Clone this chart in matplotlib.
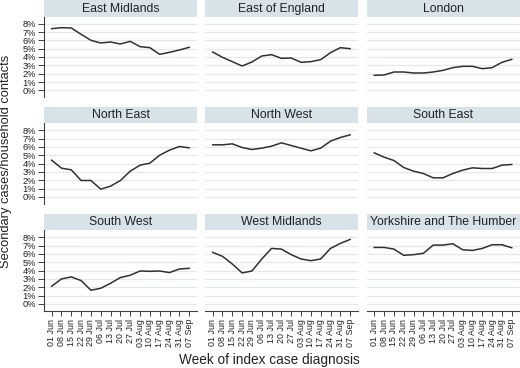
import matplotlib
matplotlib.use("Agg")
import matplotlib.pyplot as plt
from matplotlib.ticker import FuncFormatter

plt.rcParams['font.family'] = ['Liberation Sans', 'DejaVu Sans']

weeks = ["01 Jun", "08 Jun", "15 Jun", "22 Jun", "29 Jun", "06 Jul", "13 Jul",
         "20 Jul", "27 Jul", "03 Aug", "10 Aug", "17 Aug", "24 Aug", "31 Aug", "07 Sep"]

regions = ["East Midlands", "East of England", "London",
           "North East", "North West", "South East",
           "South West", "West Midlands", "Yorkshire and The Humber"]

east_midlands = [7.4, 7.52, 7.48, 6.72, 6.0, 5.68, 5.8, 5.56, 5.88, 5.24, 5.12, 4.32, 4.56, 4.84, 5.16]
east_of_england = [4.6, 3.96, 3.44, 2.92, 3.4, 4.12, 4.28, 3.84, 3.88, 3.36, 3.44, 3.68, 4.52, 5.12, 5.0]
london = [1.8, 1.84, 2.2, 2.2, 2.08, 2.08, 2.2, 2.4, 2.72, 2.88, 2.88, 2.6, 2.72, 3.36, 3.72]
north_east = [4.4, 3.44, 3.24, 1.96, 1.96, 0.92, 1.28, 1.96, 3.08, 3.8, 4.04, 5.0, 5.6, 6.04, 5.88]
north_west = [6.24, 6.24, 6.36, 5.92, 5.68, 5.84, 6.08, 6.48, 6.16, 5.84, 5.52, 5.84, 6.68, 7.12, 7.44]
south_east = [5.28, 4.76, 4.36, 3.52, 3.08, 2.8, 2.28, 2.28, 2.8, 3.2, 3.48, 3.4, 3.4, 3.8, 3.88]
south_west = [2.11, 2.99, 3.23, 2.79, 1.63, 1.87, 2.47, 3.15, 3.43, 3.94, 3.9, 3.94, 3.75, 4.18, 4.26]
west_midlands = [6.18, 5.7, 4.78, 3.71, 3.94, 5.38, 6.65, 6.57, 5.9, 5.38, 5.18, 5.38, 6.65, 7.25, 7.73]
yorkshire = [6.77, 6.77, 6.57, 5.82, 5.9, 6.06, 7.05, 7.05, 7.21, 6.49, 6.41, 6.65, 7.09, 7.09, 6.73]

series = [east_midlands, east_of_england, london, north_east, north_west,
          south_east, south_west, west_midlands, yorkshire]

yticks = [0, 1, 2, 3, 4, 5, 6, 7, 8]

W, H = 520, 368
fig = plt.figure(figsize=(W / 100, H / 100), dpi=100)
fig.patch.set_facecolor("white")

col_left = [44, 205, 366.6]
col_w = 153
row_top = [16.5, 123, 230]
plot_h = 81
strip_h = 16.5

strip_col = "#D7E2E9"
grid_col = "#E1E8EE"
line_col = "#303030"
axis_col = "#404040"
text_col = "#222222"

def px_axes(x0, top, w, h):
    return fig.add_axes([x0 / W, 1 - (top + h) / H, w / W, h / H])

x = list(range(len(weeks)))
for i, (name, vals) in enumerate(zip(regions, series)):
    r, c = divmod(i, 3)
    ax = px_axes(col_left[c], row_top[r], col_w, plot_h)
    ax.set_xlim(-0.78, 14.8)
    ax.set_ylim(-0.86, 8.86)
    for yv in yticks:
        ax.axhline(yv, color=grid_col, lw=0.9, zorder=0)
    ax.plot(x, vals, color=line_col, lw=1.1, zorder=3)
    for s in ax.spines.values():
        s.set_visible(False)
    ax.set_yticks(yticks)
    ax.set_xticks(x)
    if c == 0:
        ax.spines['left'].set_visible(True)
        ax.spines['left'].set_color(axis_col)
        ax.spines['left'].set_linewidth(0.8)
        ax.yaxis.set_major_formatter(FuncFormatter(lambda v, p: f"{int(v)}%"))
        ax.tick_params(axis='y', length=4, width=0.7, color=axis_col,
                       labelsize=6.7, labelcolor=text_col, pad=2)
    else:
        ax.tick_params(axis='y', left=False, labelleft=False)
    if r == 2:
        ax.spines['bottom'].set_visible(True)
        ax.spines['bottom'].set_color(axis_col)
        ax.spines['bottom'].set_linewidth(0.8)
        ax.set_xticklabels(weeks, rotation=90)
        ax.tick_params(axis='x', length=3.5, width=0.7, color=axis_col,
                       labelsize=6.4, labelcolor=text_col, pad=2)
    else:
        ax.tick_params(axis='x', bottom=False, labelbottom=False)
    ax.set_facecolor("white")

    sax = px_axes(col_left[c], row_top[r] - strip_h, col_w, strip_h)
    sax.set_facecolor(strip_col)
    sax.set_xticks([])
    sax.set_yticks([])
    for s in sax.spines.values():
        s.set_visible(False)
    sax.text(0.5, 0.47, name, ha='center', va='center', fontsize=8.8,
             color=text_col, transform=sax.transAxes)

fig.text(269.5 / W, 1 - 364 / H, "Week of index case diagnosis", ha='center', va='baseline',
         fontsize=9.8, color=text_col)
fig.text(6 / W, 1 - 161 / H, "Secondary cases/household contacts", ha='center', va='center',
         rotation=90, fontsize=9.3, color=text_col)

fig.savefig("out.png", dpi=100)
